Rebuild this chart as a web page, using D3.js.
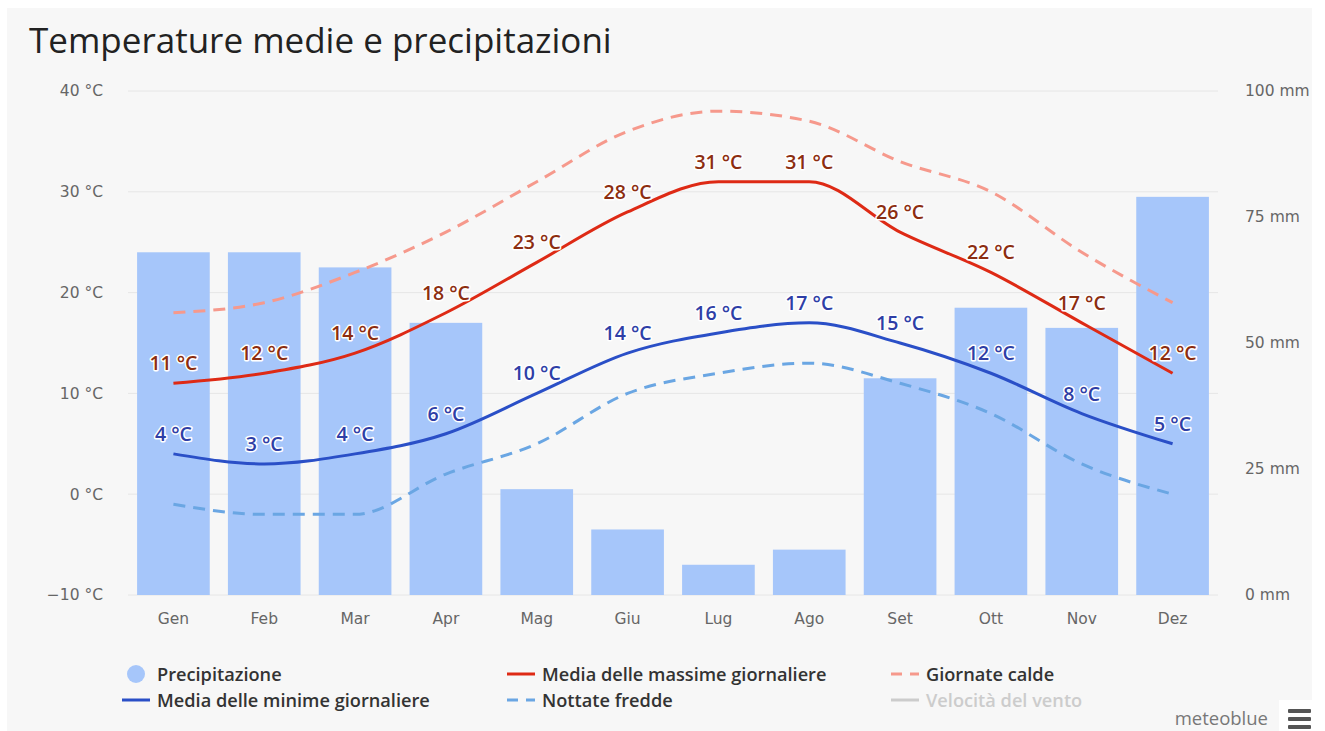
<!DOCTYPE html>
<html>
<head>
<meta charset="utf-8">
<script src="https://cdn.jsdelivr.net/npm/d3@7"></script>
<style>
  body { margin: 0; background: #fff; }
  svg { display: block; font-family: "Open Sans", "Noto Sans", sans-serif; }
</style>
</head>
<body>
<div id="container"></div>
<script>
// Chart data
var months = ['Gen', 'Feb', 'Mar', 'Apr', 'Mag', 'Giu', 'Lug', 'Ago', 'Set', 'Ott', 'Nov', 'Dez'];
var precipitation = [68, 68, 65, 54, 21, 13, 6, 9, 43, 57, 53, 79];
var maxTemp = [11, 12, 14, 18, 23, 28, 31, 31, 26, 22, 17, 12];
var minTemp = [4, 3, 4, 6, 10, 14, 16, 17, 15, 12, 8, 5];
var hotDays = [18, 19, 22, 26, 31, 36, 38, 37, 33, 30, 24, 19];
var coldNights = [-1, -2, -2, 2, 5, 10, 12, 13, 11, 8, 3, 0];
var tempTicks = [-10, 0, 10, 20, 30, 40];
var precTicks = [0, 25, 50, 75, 100];

var width = 1325,
height = 731;
var axisFont = '"DejaVu Sans", Verdana, sans-serif';

var svg = d3.select('#container').append('svg').attr('width', width).attr('height', height);

// grey panel
svg.append('rect').attr('x', 7).attr('y', 8).attr('width', 1305).attr('height', 723).attr('fill', '#f7f7f7');

svg.append('defs').append('clipPath').attr('id', 'panelClip')
  .append('rect').attr('x', 7).attr('y', 8).attr('width', 1303).attr('height', 723);

svg.append('text')
  .attr('x', 29).attr('y', 53)
  .attr('font-size', 35).attr('fill', '#222')
  .text('Temperature medie e precipitazioni');

var x = d3.scaleBand().domain(months).range([128, 1218]).paddingInner(0.2).paddingOuter(0.1);
var yT = d3.scaleLinear().domain([-10, 40]).range([595, 91]);
var yP = d3.scaleLinear().domain([0, 100]).range([595, 91]);

// grid lines
svg.append('g').selectAll('line').data(tempTicks).enter().append('line')
  .attr('x1', 128).attr('x2', 1218)
  .attr('y1', d => yT(d)).attr('y2', d => yT(d))
  .attr('stroke', '#e6e6e6').attr('stroke-width', 1);

// left axis
var leftAxis = d3.axisLeft(yT).tickValues(tempTicks).tickSize(0).tickPadding(0)
  .tickFormat(d => (d < 0 ? '\u2212' + Math.abs(d) : d) + ' °C');
svg.append('g').attr('transform', 'translate(103,0)').call(leftAxis)
  .call(g => g.select('.domain').remove())
  .selectAll('text').attr('font-size', 15.5).attr('fill', '#666').attr('font-family', axisFont);

// right axis (last label is clipped by the panel edge, as in the original)
var rightAxis = d3.axisRight(yP).tickValues(precTicks).tickSize(0).tickPadding(0)
  .tickFormat(d => d + ' mm');
svg.append('g').attr('clip-path', 'url(#panelClip)').append('g')
  .attr('transform', 'translate(1245,0)').call(rightAxis)
  .call(g => g.select('.domain').remove())
  .selectAll('text').attr('font-size', 15.5).attr('fill', '#666').attr('font-family', axisFont);

// x axis
var bottomAxis = d3.axisBottom(x).tickSize(0).tickPadding(0);
svg.append('g').attr('transform', 'translate(0,613)').call(bottomAxis)
  .call(g => g.select('.domain').remove())
  .selectAll('text').attr('font-size', 15.5).attr('fill', '#666').attr('font-family', axisFont);

// precipitation bars
svg.append('g').selectAll('rect').data(precipitation).enter().append('rect')
  .attr('x', (d, i) => x(months[i]))
  .attr('y', d => yP(d))
  .attr('width', x.bandwidth())
  .attr('height', d => yP(0) - yP(d))
  .attr('fill', '#a6c6fa');

var cx = i => x(months[i]) + x.bandwidth() / 2;
var line = d3.line().x((d, i) => cx(i)).y(d => yT(d)).curve(d3.curveMonotoneX);

function drawLine(data, colour, dash) {
  svg.append('path').datum(data)
    .attr('d', line)
    .attr('fill', 'none')
    .attr('stroke', colour)
    .attr('stroke-width', 3)
    .attr('stroke-dasharray', dash)
    .attr('stroke-linecap', 'butt');
}

drawLine(coldNights, '#6aa6e3', '12,8');
drawLine(hotDays, '#f6998c', '12,8');
drawLine(minTemp, '#2a4fc7', null);
drawLine(maxTemp, '#de2a15', null);

// data labels
function drawLabels(data, colour) {
  svg.append('g').selectAll('text').data(data).enter().append('text')
    .attr('x', (d, i) => cx(i))
    .attr('y', d => yT(d) - 13)
    .attr('text-anchor', 'middle')
    .attr('font-size', 19.5)
    .attr('font-weight', 600)
    .attr('fill', colour)
    .attr('stroke', '#fff')
    .attr('stroke-width', 3)
    .attr('stroke-linejoin', 'round')
    .attr('paint-order', 'stroke')
    .text(d => d + ' °C');
}
drawLabels(maxTemp, '#8c2d10');
drawLabels(minTemp, '#2e3ea6');

// legend
var legendItems = [
  { name: 'Precipitazione', type: 'circle', colour: '#a6c6fa', x: 157, y: 674 },
  { name: 'Media delle minime giornaliere', type: 'line', colour: '#2a4fc7', x: 157, y: 700 },
  { name: 'Media delle massime giornaliere', type: 'line', colour: '#de2a15', x: 542, y: 674 },
  { name: 'Nottate fredde', type: 'dash', colour: '#6aa6e3', x: 542, y: 700 },
  { name: 'Giornate calde', type: 'dash', colour: '#f6998c', x: 926, y: 674 },
  { name: 'Velocità del vento', type: 'line', colour: '#cccccc', x: 926, y: 700, hidden: true }
];

var legend = svg.append('g').attr('id', 'legend');
legendItems.forEach(function (item) {
  var g = legend.append('g');
  if (item.type === 'circle') {
    g.append('circle').attr('cx', item.x - 21).attr('cy', item.y).attr('r', 9).attr('fill', item.colour);
  } else {
    g.append('line')
      .attr('x1', item.x - 35).attr('x2', item.x - 7)
      .attr('y1', item.y).attr('y2', item.y)
      .attr('stroke', item.colour).attr('stroke-width', 3)
      .attr('stroke-dasharray', item.type === 'dash' ? '11,8' : null);
  }
  g.append('text')
    .attr('x', item.x).attr('y', item.y + 6.5)
    .attr('font-size', 18.2).attr('font-weight', 600)
    .attr('fill', item.hidden ? '#cccccc' : '#333')
    .text(item.name);
});

// credits + menu
svg.append('text').attr('x', 1268).attr('y', 725).attr('text-anchor', 'end')
  .attr('font-size', 18.5).attr('fill', '#777').text('meteoblue');
svg.append('rect').attr('x', 1279).attr('y', 700).attr('width', 33).attr('height', 31).attr('fill', '#fff');
[711, 719, 727].forEach(function (yy) {
  svg.append('rect').attr('x', 1288).attr('y', yy - 2).attr('width', 23).attr('height', 4)
    .attr('rx', 1).attr('fill', '#555');
});
</script>
</body>
</html>
